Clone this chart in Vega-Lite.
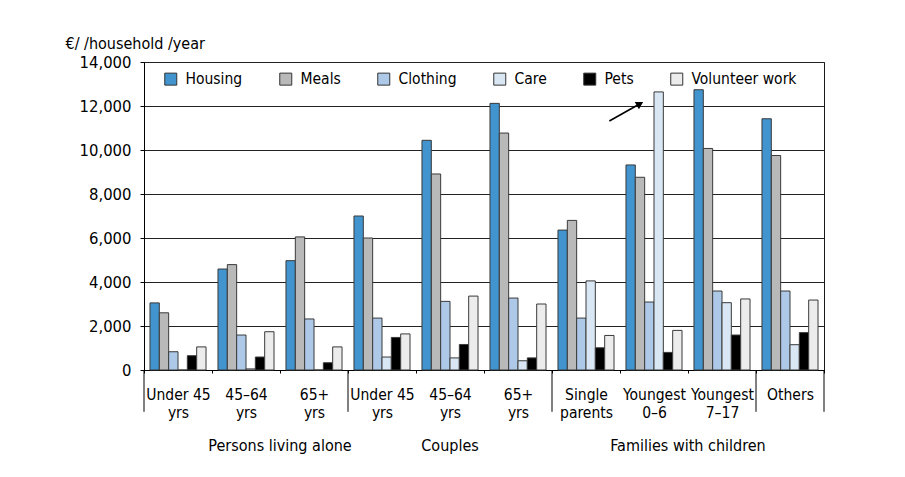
{
  "$schema": "https://vega.github.io/schema/vega-lite/v6.json",
  "width": 680,
  "height": 308,
  "autosize": {"type": "none"},
  "padding": {"left": 144, "top": 62, "right": 81, "bottom": 107},
  "background": "white",
  "config": {
    "font": "DejaVu Sans Condensed",
    "view": {"stroke": "#1a1a1a", "strokeWidth": 1}
  },
  "resolve": {"axis": {"x": "independent", "y": "independent"}},
  "datasets": {
    "bars": [
      {"g": "1|Under 45|yrs", "item": "Housing", "v": 3050},
      {"g": "1|Under 45|yrs", "item": "Meals", "v": 2600},
      {"g": "1|Under 45|yrs", "item": "Clothing", "v": 830},
      {"g": "1|Under 45|yrs", "item": "Care", "v": 0},
      {"g": "1|Under 45|yrs", "item": "Pets", "v": 650},
      {"g": "1|Under 45|yrs", "item": "Volunteer work", "v": 1050},
      {"g": "2|45–64|yrs", "item": "Housing", "v": 4590},
      {"g": "2|45–64|yrs", "item": "Meals", "v": 4790},
      {"g": "2|45–64|yrs", "item": "Clothing", "v": 1590},
      {"g": "2|45–64|yrs", "item": "Care", "v": 50},
      {"g": "2|45–64|yrs", "item": "Pets", "v": 590},
      {"g": "2|45–64|yrs", "item": "Volunteer work", "v": 1740},
      {"g": "3|65+|yrs", "item": "Housing", "v": 4970},
      {"g": "3|65+|yrs", "item": "Meals", "v": 6050},
      {"g": "3|65+|yrs", "item": "Clothing", "v": 2320},
      {"g": "3|65+|yrs", "item": "Care", "v": 0},
      {"g": "3|65+|yrs", "item": "Pets", "v": 330},
      {"g": "3|65+|yrs", "item": "Volunteer work", "v": 1050},
      {"g": "4|Under 45|yrs", "item": "Housing", "v": 7000},
      {"g": "4|Under 45|yrs", "item": "Meals", "v": 6000},
      {"g": "4|Under 45|yrs", "item": "Clothing", "v": 2360},
      {"g": "4|Under 45|yrs", "item": "Care", "v": 590},
      {"g": "4|Under 45|yrs", "item": "Pets", "v": 1480},
      {"g": "4|Under 45|yrs", "item": "Volunteer work", "v": 1640},
      {"g": "5|45–64|yrs", "item": "Housing", "v": 10440},
      {"g": "5|45–64|yrs", "item": "Meals", "v": 8910},
      {"g": "5|45–64|yrs", "item": "Clothing", "v": 3120},
      {"g": "5|45–64|yrs", "item": "Care", "v": 550},
      {"g": "5|45–64|yrs", "item": "Pets", "v": 1160},
      {"g": "5|45–64|yrs", "item": "Volunteer work", "v": 3360},
      {"g": "6|65+|yrs", "item": "Housing", "v": 12120},
      {"g": "6|65+|yrs", "item": "Meals", "v": 10770},
      {"g": "6|65+|yrs", "item": "Clothing", "v": 3270},
      {"g": "6|65+|yrs", "item": "Care", "v": 420},
      {"g": "6|65+|yrs", "item": "Pets", "v": 550},
      {"g": "6|65+|yrs", "item": "Volunteer work", "v": 3000},
      {"g": "7|Single|parents", "item": "Housing", "v": 6360},
      {"g": "7|Single|parents", "item": "Meals", "v": 6800},
      {"g": "7|Single|parents", "item": "Clothing", "v": 2360},
      {"g": "7|Single|parents", "item": "Care", "v": 4050},
      {"g": "7|Single|parents", "item": "Pets", "v": 1010},
      {"g": "7|Single|parents", "item": "Volunteer work", "v": 1570},
      {"g": "8|Youngest|0–6", "item": "Housing", "v": 9320},
      {"g": "8|Youngest|0–6", "item": "Meals", "v": 8760},
      {"g": "8|Youngest|0–6", "item": "Clothing", "v": 3090},
      {"g": "8|Youngest|0–6", "item": "Care", "v": 12640},
      {"g": "8|Youngest|0–6", "item": "Pets", "v": 800},
      {"g": "8|Youngest|0–6", "item": "Volunteer work", "v": 1800},
      {"g": "9|Youngest|7–17", "item": "Housing", "v": 12740},
      {"g": "9|Youngest|7–17", "item": "Meals", "v": 10070},
      {"g": "9|Youngest|7–17", "item": "Clothing", "v": 3590},
      {"g": "9|Youngest|7–17", "item": "Care", "v": 3060},
      {"g": "9|Youngest|7–17", "item": "Pets", "v": 1590},
      {"g": "9|Youngest|7–17", "item": "Volunteer work", "v": 3230},
      {"g": "10|Others", "item": "Housing", "v": 11420},
      {"g": "10|Others", "item": "Meals", "v": 9750},
      {"g": "10|Others", "item": "Clothing", "v": 3590},
      {"g": "10|Others", "item": "Care", "v": 1150},
      {"g": "10|Others", "item": "Pets", "v": 1700},
      {"g": "10|Others", "item": "Volunteer work", "v": 3180}
    ],
    "seps": [
      {"g": "1|Under 45|yrs"},
      {"g": "4|Under 45|yrs"},
      {"g": "7|Single|parents"},
      {"g": "10|Others"}
    ],
    "sepEnd": [
      {"g": "10|Others"}
    ],
    "tops": [
      {"g": "3|65+|yrs", "label": "Persons living alone"},
      {"g": "9|Youngest|7–17", "label": "Families with children"}
    ],
    "tops2": [
      {"g": "5|45–64|yrs", "label": "Couples"}
    ],
    "arrow": [
      {"g": "7|Single|parents", "item": "Volunteer work", "v": 11320},
      {"g": "8|Youngest|0–6", "item": "Meals", "v": 12100}
    ],
    "arrowHead": [
      {"g": "8|Youngest|0–6", "item": "Meals", "v": 12100}
    ]
  },
  "layer": [
    {
      "data": {"name": "bars"},
      "mark": {"type": "bar", "stroke": "#3a3a3a", "strokeWidth": 1},
      "encoding": {
        "x": {
          "field": "g",
          "type": "nominal",
          "scale": {
            "type": "band",
            "domain": ["1|Under 45|yrs", "2|45–64|yrs", "3|65+|yrs", "4|Under 45|yrs", "5|45–64|yrs", "6|65+|yrs", "7|Single|parents", "8|Youngest|0–6", "9|Youngest|7–17", "10|Others"],
            "paddingInner": 0,
            "paddingOuter": 0
          },
          "axis": {
            "title": null,
            "orient": "bottom",
            "labelExpr": "slice(split(datum.label, '|'), 1)",
            "tickBand": "extent",
            "tickSize": 3,
            "tickColor": "#000",
            "domainColor": "#000",
            "labelAngle": 0,
            "labelFont": "DejaVu Sans Condensed",
            "labelFontSize": 15.5,
            "labelColor": "#000",
            "labelPadding": 14,
            "labelLineHeight": 18.5,
            "labelBaseline": "top",
            "labelOverlap": false,
            "labelBound": false,
            "labelLimit": 0
          }
        },
        "xOffset": {
          "field": "item",
          "type": "nominal",
          "scale": {
            "domain": ["Housing", "Meals", "Clothing", "Care", "Pets", "Volunteer work"],
            "paddingInner": 0,
            "paddingOuter": 0.64
          }
        },
        "y": {
          "field": "v",
          "type": "quantitative",
          "scale": {"domain": [0, 14000], "nice": false},
          "axis": {
            "title": "€/ /household /year",
            "orient": "left",
            "titleAngle": 0,
            "titleAlign": "left",
            "titleBaseline": "alphabetic",
            "titleX": -79,
            "titleY": -14,
            "titleFont": "DejaVu Sans Condensed",
            "titleFontSize": 16,
            "titleFontWeight": "normal",
            "titleColor": "#000",
            "values": [0, 2000, 4000, 6000, 8000, 10000, 12000, 14000],
            "format": ",.0f",
            "labelFont": "DejaVu Sans Condensed",
            "labelFontSize": 16.5,
            "labelColor": "#000",
            "labelPadding": 9,
            "tickSize": 4,
            "tickColor": "#000",
            "domainColor": "#000",
            "grid": true,
            "gridColor": "#222",
            "gridWidth": 1
          }
        },
        "color": {
          "field": "item",
          "type": "nominal",
          "scale": {
            "domain": ["Housing", "Meals", "Clothing", "Care", "Pets", "Volunteer work"],
            "range": ["#4294cf", "#b9b9b9", "#adc9e7", "#d9e6f3", "#000000", "#ececec"]
          },
          "legend": {
            "title": null,
            "orient": "none",
            "legendX": 19,
            "legendY": 9,
            "direction": "horizontal",
            "columns": 6,
            "columnPadding": 34,
            "symbolType": "square",
            "symbolSize": 144,
            "symbolStrokeColor": "#333",
            "symbolStrokeWidth": 1,
            "symbolOpacity": 1,
            "labelFont": "DejaVu Sans Condensed",
            "labelFontSize": 15.5,
            "labelColor": "#000",
            "labelOffset": 7
          }
        }
      }
    },
    {
      "data": {"name": "seps"},
      "mark": {"type": "rule", "color": "#000", "strokeWidth": 1},
      "encoding": {
        "x": {"field": "g", "type": "nominal", "bandPosition": 0, "axis": null},
        "y": {"datum": 0, "axis": null},
        "y2": {"datum": -1900}
      }
    },
    {
      "data": {"name": "sepEnd"},
      "mark": {"type": "rule", "color": "#000", "strokeWidth": 1},
      "encoding": {
        "x": {"field": "g", "type": "nominal", "bandPosition": 1, "axis": null},
        "y": {"datum": 0, "axis": null},
        "y2": {"datum": -1900}
      }
    },
    {
      "data": {"name": "tops"},
      "mark": {"type": "text", "font": "DejaVu Sans Condensed", "fontSize": 16, "color": "#000", "baseline": "middle"},
      "encoding": {
        "x": {"field": "g", "type": "nominal", "bandPosition": 0, "axis": null},
        "y": {"datum": -3440, "axis": null},
        "text": {"field": "label"}
      }
    },
    {
      "data": {"name": "tops2"},
      "mark": {"type": "text", "font": "DejaVu Sans Condensed", "fontSize": 16, "color": "#000", "baseline": "middle"},
      "encoding": {
        "x": {"field": "g", "type": "nominal", "bandPosition": 0.5, "axis": null},
        "y": {"datum": -3440, "axis": null},
        "text": {"field": "label"}
      }
    },
    {
      "data": {"name": "arrow"},
      "mark": {"type": "line", "color": "#000", "strokeWidth": 1.6},
      "encoding": {
        "x": {"field": "g", "type": "nominal", "axis": null},
        "xOffset": {"field": "item", "type": "nominal"},
        "y": {"field": "v", "type": "quantitative", "axis": null}
      }
    },
    {
      "data": {"name": "arrowHead"},
      "mark": {"type": "point", "shape": "triangle-up", "filled": true, "color": "#000", "size": 70, "angle": 60, "opacity": 1},
      "encoding": {
        "x": {"field": "g", "type": "nominal", "axis": null},
        "xOffset": {"field": "item", "type": "nominal"},
        "y": {"field": "v", "type": "quantitative", "axis": null}
      }
    }
  ]
}
